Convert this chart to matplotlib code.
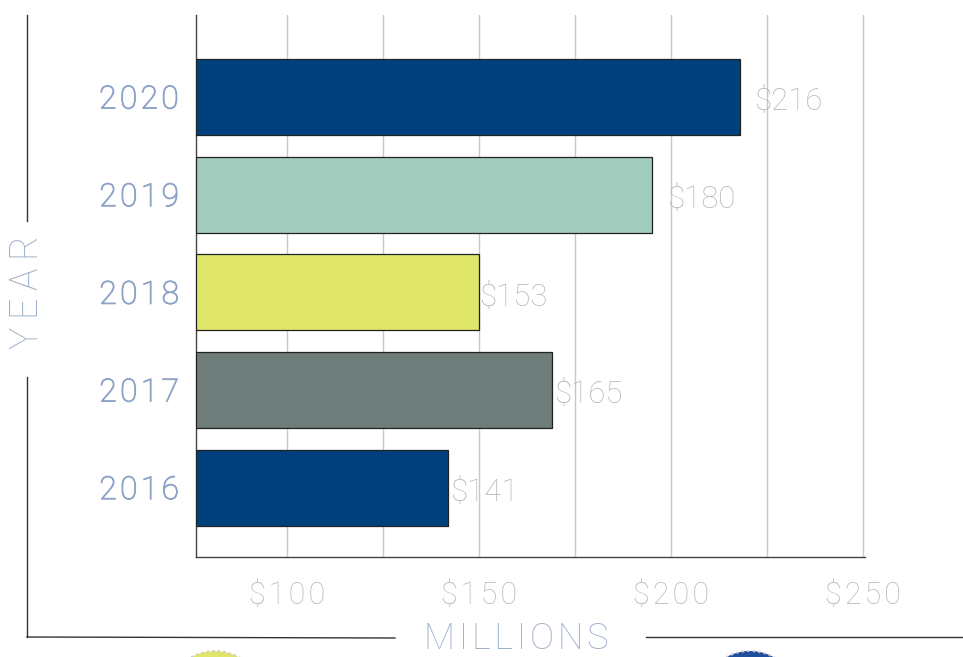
import matplotlib.pyplot as plt
import matplotlib.patheffects as pe
from matplotlib.patches import Ellipse

# ---------------------------------------------------
# DATA
# ---------------------------------------------------
years = ["2016", "2017", "2018", "2019", "2020"]
bar_lengths = [142, 169, 150, 195, 218]      # bar ends as drawn
value_labels = ["$141", "$165", "$153", "$180", "$216"]
bar_colors = ["#00417d", "#6e7c7a", "#e0e66a", "#a0cbbd", "#00417d"]
x_ticks = [100, 150, 200, 250]
x_tick_labels = ["$100", "$150", "$200", "$250"]
x_grid = [100, 125, 150, 175, 200, 225, 250]

# label offsets (points) to the right of each bar end
label_offsets = [1.5, 1.5, 0, 11, 10]

plt.rcParams['font.family'] = ['Roboto', 'DejaVu Sans']

HAIR = "\u200a"
THIN = "\u2009"


def spaced(s, sep):
    return sep.join(s)


fig = plt.figure(figsize=(9.63, 6.57), dpi=100)
ax = fig.add_axes([0.2035, 0.1522, 0.6947, 0.8250])

x_min = 76.4
ypos = list(range(len(years)))
ax.barh(ypos, [v - x_min for v in bar_lengths], left=x_min, height=0.78,
        color=bar_colors, edgecolor="#222222", linewidth=0.9, zorder=3)

for y, v, lab, off in zip(ypos, bar_lengths, value_labels, label_offsets):
    ax.annotate(lab, (v, y - 0.05), xytext=(off, 0), textcoords="offset points",
                ha="left", va="center", fontsize=22.5, fontweight="light",
                color="#b8b8b8", zorder=4)

for g in x_grid:
    ax.axvline(g, color="#c8c8c8", linewidth=1.0, zorder=1)

ax.set_xlim(x_min, 250.5)
ax.set_ylim(-0.71, 4.84)
ax.set_xticks(x_ticks)
ax.set_xticklabels([spaced(t, HAIR) for t in x_tick_labels], fontsize=22,
                   fontweight="light", color="#bababa")
ax.set_yticks(ypos)
ax.set_yticklabels([spaced(t, HAIR) for t in years], fontsize=23,
                   fontweight="light", color="#8fa3c7")
for t in ax.get_yticklabels():
    # thicken the light glyphs a little to match the reference weight
    t.set_path_effects([pe.withStroke(linewidth=0.7, foreground="#8fa3c7")])
ax.tick_params(axis="x", length=0, pad=17)
ax.tick_params(axis="y", length=0, pad=12)

for side in ["top", "right"]:
    ax.spines[side].set_visible(False)
for side in ["left", "bottom"]:
    ax.spines[side].set_color("#444444")
    ax.spines[side].set_linewidth(1.0)

# frame lines around the axis titles
W, H = 963, 657


def fline(xs, ys):
    fig.add_artist(plt.Line2D([x / W for x in xs], [1 - y / H for y in ys],
                              color="#333333", linewidth=1.0))


fline([27, 27], [15, 221])
fline([27, 27], [377, 637])
fline([27, 395], [637, 638])
fline([646, 963], [637, 637])

fig.text(27 / W, 1 - 292 / H, spaced("YEAR", THIN), rotation=90, ha="center",
         va="center", fontsize=27, fontweight="light", color="#9fb0cc")
fig.text(516 / W, 1 - 639 / H, spaced("MILLIONS", HAIR), ha="center",
         va="center", fontsize=26, fontweight="light", color="#9fb0cc")

# partially visible legend dots at the bottom edge
for cx, col in [(215, "#e0e66a"), (750, "#1f4e9c")]:
    fig.add_artist(Ellipse((cx / W, 1 - 700 / H), 98 / W, 98 / H,
                           transform=fig.transFigure, facecolor=col,
                           edgecolor="#cccccc", linewidth=1.5, linestyle=":"))

fig.savefig("out.png", dpi=100)
